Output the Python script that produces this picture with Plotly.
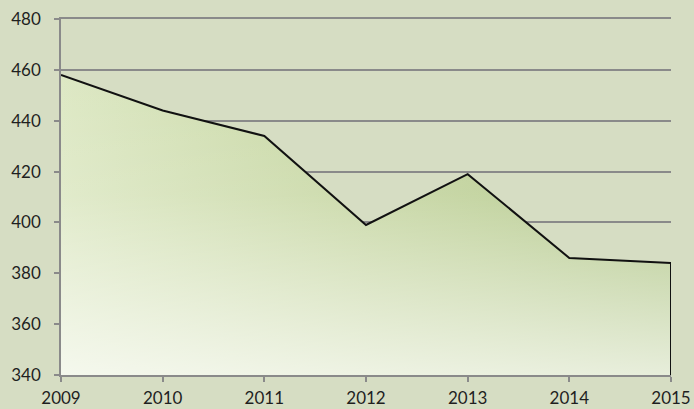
import plotly.graph_objects as go

years = [2009, 2010, 2011, 2012, 2013, 2014, 2015]
values = [458, 444, 434, 399, 419, 386, 384]
y_ticks = [340, 360, 380, 400, 420, 440, 460, 480]

y_min, y_max = y_ticks[0], y_ticks[-1]
bg = "#d6ddc3"

fig = go.Figure()

# Base area with horizontal gradient (light on left, green on right)
fig.add_trace(go.Scatter(
    x=years, y=values, mode="lines", fill="tozeroy",
    line=dict(width=0, color="rgba(0,0,0,0)"),
    fillgradient=dict(type="horizontal", start=years[0], stop=years[-1],
                      colorscale=[[0, "#dde8c4"], [0.5, "#c6d6a2"], [1, "#afc585"]]),
    hoverinfo="skip", showlegend=False,
))
# Overlay vertical whitening at the bottom to create a diagonal effect
fig.add_trace(go.Scatter(
    x=years, y=values, mode="lines", fill="tozeroy",
    line=dict(width=0, color="rgba(0,0,0,0)"),
    fillgradient=dict(type="vertical", start=y_min, stop=max(values),
                      colorscale=[[0, "rgba(255,255,255,0.7)"], [0.6, "rgba(255,255,255,0.12)"],
                                  [1, "rgba(255,255,255,0)"]]),
    hoverinfo="skip", showlegend=False,
))
# Outline: series line plus closing edge at last year
fig.add_trace(go.Scatter(
    x=years + [years[-1]], y=values + [y_min], mode="lines",
    line=dict(color="#111111", width=2),
    hoverinfo="skip", showlegend=False,
))

axis_col = "#8a8a8a"
font = dict(family="Lato, Carlito, Calibri, sans-serif", size=17, color="#1f1f1f")

fig.update_layout(
    width=694, height=409,
    margin=dict(l=61, r=23, t=19, b=34),
    paper_bgcolor=bg,
    plot_bgcolor="rgba(0,0,0,0)",
    font=font,
    showlegend=False,
    xaxis=dict(
        range=[years[0], years[-1]], tickvals=years, ticktext=[str(y) for y in years],
        showgrid=False, zeroline=False, showline=True, mirror=True,
        linecolor=axis_col, linewidth=1.5,
        ticks="outside", ticklen=5, tickcolor=axis_col, tickwidth=1.5,
        tickfont=font, ticklabelstandoff=2, automargin=False,
    ),
    yaxis=dict(
        range=[y_min, y_max], tickvals=y_ticks,
        showgrid=True, gridcolor=axis_col, gridwidth=1.5,
        zeroline=False, showline=True, linecolor=axis_col, linewidth=1.5,
        ticks="outside", ticklen=5, tickcolor=axis_col, tickwidth=1.5,
        tickfont=font, ticklabelstandoff=10, automargin=False,
    ),
)

fig.write_html(
    "out.html",
    config={"displayModeBar": False},
    post_script=f"document.body.style.margin='0';document.body.style.background='{bg}';"
                "document.body.style.overflow='hidden';",
)
